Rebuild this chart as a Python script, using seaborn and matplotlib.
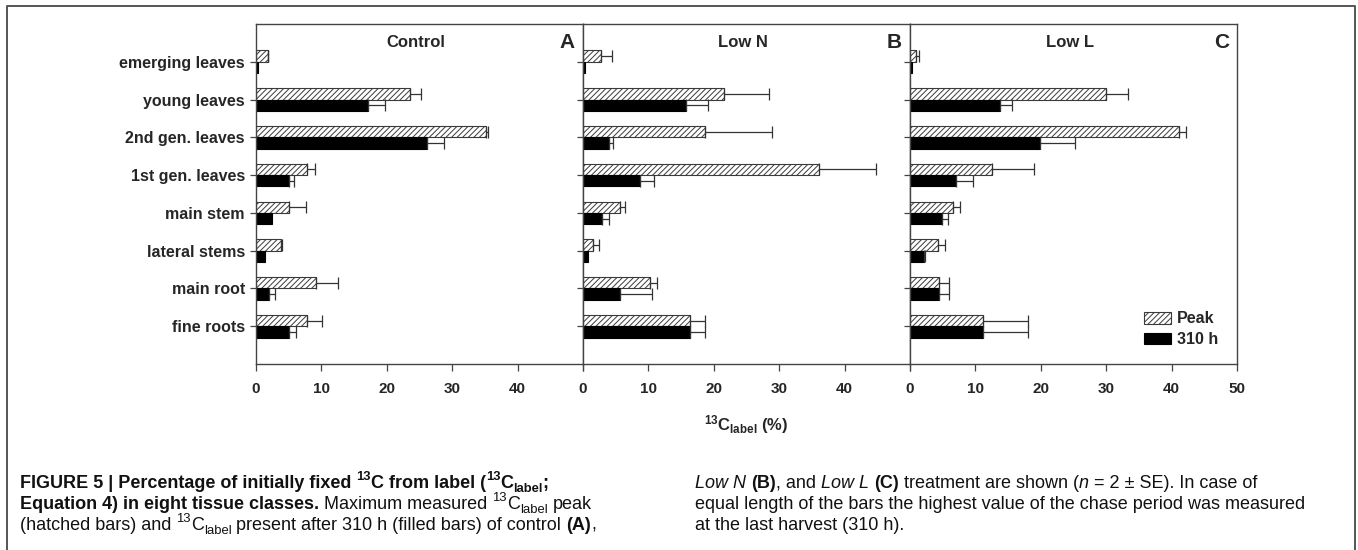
import numpy as np
import pandas as pd
import matplotlib
matplotlib.use('Agg')
import matplotlib.pyplot as plt
import seaborn as sns
from matplotlib.lines import Line2D

tissues = ['emerging leaves', 'young leaves', '2nd gen. leaves', '1st gen. leaves',
           'main stem', 'lateral stems', 'main root', 'fine roots']
treatments = ['Control', 'Low N', 'Low L']
letters = ['A', 'B', 'C']
series = ['Peak', '310 h']

# 13C label (%), mean and SE (one sided bars)
peak_control = [1.8, 23.5, 35.1, 7.8, 5.1, 3.8, 9.2, 7.8]
peak_control_se = [0.1, 1.7, 0.4, 1.2, 2.6, 0.1, 3.4, 2.3]
h310_control = [0.3, 17.2, 26.1, 5.0, 2.5, 1.4, 2.0, 5.1]
h310_control_se = [0.0, 2.5, 2.6, 0.8, 0.0, 0.0, 0.9, 1.0]

peak_lown = [2.7, 21.6, 18.7, 36.1, 5.7, 1.5, 10.3, 16.3]
peak_lown_se = [1.8, 6.9, 10.2, 8.7, 0.7, 1.0, 1.0, 2.4]
h310_lown = [0.3, 15.8, 3.9, 8.7, 2.9, 0.7, 5.7, 16.3]
h310_lown_se = [0.0, 3.3, 0.7, 2.2, 1.0, 0.0, 4.8, 2.4]

peak_lowl = [0.9, 29.9, 41.1, 12.6, 6.6, 4.3, 4.5, 11.2]
peak_lowl_se = [0.4, 3.5, 1.1, 6.4, 1.0, 1.1, 1.5, 6.9]
h310_lowl = [0.3, 13.7, 19.9, 7.1, 4.9, 2.1, 4.5, 11.2]
h310_lowl_se = [0.0, 1.9, 5.4, 2.5, 0.9, 0.2, 1.5, 6.9]

values = {
    ('Control', 'Peak'): (peak_control, peak_control_se),
    ('Control', '310 h'): (h310_control, h310_control_se),
    ('Low N', 'Peak'): (peak_lown, peak_lown_se),
    ('Low N', '310 h'): (h310_lown, h310_lown_se),
    ('Low L', 'Peak'): (peak_lowl, peak_lowl_se),
    ('Low L', '310 h'): (h310_lowl, h310_lowl_se),
}
rows = []
for (t, s), (v, e) in values.items():
    for tis, vv, ee in zip(tissues, v, e):
        rows.append({'treatment': t, 'series': s, 'tissue': tis, 'value': vv, 'se': ee})
df = pd.DataFrame(rows)

sns.set_theme(style='white')
plt.rcParams['font.family'] = ['Liberation Sans', 'DejaVu Sans']
plt.rcParams['mathtext.fontset'] = 'custom'
plt.rcParams['mathtext.rm'] = 'Liberation Sans'
plt.rcParams['mathtext.it'] = 'Liberation Sans:italic'
plt.rcParams['mathtext.bf'] = 'Liberation Sans:bold'
plt.rcParams['hatch.linewidth'] = 0.7

W, H = 1358, 550
fig = plt.figure(figsize=(W / 100, H / 100), dpi=100)

edge = '#3a3a3a'
for i, t in enumerate(treatments):
    ax = fig.add_axes([(256 + 327 * i) / W, 1 - 364 / H, 327 / W, 340 / H])
    sub = df[df['treatment'] == t]
    sns.barplot(data=sub, x='value', y='tissue', hue='series', order=tissues,
                hue_order=series, orient='h', width=0.6,
                palette={'Peak': 'white', '310 h': 'black'},
                errorbar=None, legend=False, ax=ax)
    for k, s in enumerate(series):
        cont = ax.containers[k]
        part = sub[sub['series'] == s].set_index('tissue').loc[tissues]
        se = part['se'].values
        val = part['value'].values
        ys = []
        for p in cont:
            if s == 'Peak':
                p.set_facecolor('white')
                p.set_edgecolor(edge)
                p.set_hatch('//////')
            else:
                p.set_facecolor('black')
                p.set_edgecolor('black')
            p.set_linewidth(0.8)
            ys.append(p.get_y() + p.get_height() / 2)
        ys = np.array(ys)
        m = se > 0
        ax.errorbar(val[m], ys[m], xerr=[np.zeros(m.sum()), se[m]], fmt='none',
                    ecolor='#333333', elinewidth=0.9, capsize=4, capthick=0.9)

    ax.set_xlim(0, 50)
    ax.set_ylim(8, -1)
    ax.set_xticks(range(0, 51, 10))
    labs = [str(v) for v in range(0, 51, 10)]
    if i < 2:
        labs[-1] = ''
    ax.set_xticklabels(labs, fontsize=11, fontweight='bold')
    ax.set_xlabel('')
    ax.set_ylabel('')
    ax.tick_params(axis='x', direction='out', length=5, width=0.9, color='#444444',
                   pad=8, bottom=True)
    ax.tick_params(axis='y', direction='out', length=4, width=0.9, color='#444444',
                   left=True, pad=4)
    ax.set_yticks(range(len(tissues)))
    if i == 0:
        ax.set_yticklabels(tissues, fontsize=11.5, fontweight='bold')
    else:
        ax.set_yticklabels([])
    for sp in ax.spines.values():
        sp.set_visible(True)
        sp.set_color('#444444')
        sp.set_linewidth(1.0)
    ax.text(0.49, 0.947, t, transform=ax.transAxes, ha='center', va='center',
            fontsize=12, fontweight='bold')
    ax.text(0.975, 0.947, letters[i], transform=ax.transAxes, ha='right', va='center',
            fontsize=15, fontweight='bold')
    if i == 2:
        ax.legend([ax.containers[0], ax.containers[1]], series, loc='lower left',
                  bbox_to_anchor=(0.715, 0.05), frameon=False,
                  prop={'weight': 'bold', 'size': 11.5}, handlelength=1.7,
                  handleheight=0.75, labelspacing=0.35, handletextpad=0.4,
                  borderpad=0, borderaxespad=0)

fig.text((256 + 1237) / 2 / W, 1 - 425 / H, r'$\mathbf{{}^{13}C_{label}\ (\%)}$',
         ha='center', va='center', fontsize=12)

# outer frame (open at the bottom)
fx0, fx1, fy0 = 7 / W, 1355 / W, 1 - 6 / H
fig.add_artist(Line2D([fx0, fx0, fx1, fx1], [0, fy0, fy0, 0], transform=fig.transFigure,
                      color='#555555', lw=1.4))

# caption, drawn piece by piece (bold / regular / italic, super- and subscripts)
renderer = fig.canvas.get_renderer()
cap_size = 13


def text_width(s, fs, wt, st):
    t = fig.text(0, 0, s, fontsize=fs, fontweight=wt, fontstyle=st)
    w = t.get_window_extent(renderer).width
    t.remove()
    return w


def draw_line(x, yb, runs):
    for txt, wt, st, kind in runs:
        fs = cap_size * (0.72 if kind else 1.0)
        dy = {'': 0, 'sup': 0.42, 'sub': -0.2}[kind] * cap_size * 100 / 72
        sw = text_width('n n', fs, wt, st) - text_width('nn', fs, wt, st)
        core = txt.strip(' ')
        if not core:
            x += len(txt) * sw
            continue
        x += (len(txt) - len(txt.lstrip(' '))) * sw
        t = fig.text(x / W, 1 - (yb - dy) / H, core, fontsize=fs, fontweight=wt,
                     fontstyle=st, ha='left', va='baseline', color='#111111')
        x += t.get_window_extent(renderer).width
        x += (len(txt) - len(txt.rstrip(' '))) * sw


B, R, N, I = 'bold', 'normal', 'normal', 'italic'
left_lines = [
    [('FIGURE 5 | Percentage of initially fixed ', B, N, ''), ('13', B, N, 'sup'),
     ('C from label (', B, N, ''), ('13', B, N, 'sup'), ('C', B, N, ''),
     ('label', B, N, 'sub'), (';', B, N, '')],
    [('Equation 4) in eight tissue classes.', B, N, ''), (' Maximum measured ', R, N, ''),
     ('13', R, N, 'sup'), ('C', R, N, ''), ('label', R, N, 'sub'), (' peak', R, N, '')],
    [('(hatched bars) and ', R, N, ''), ('13', R, N, 'sup'), ('C', R, N, ''),
     ('label', R, N, 'sub'), (' present after 310 h (filled bars) of control ', R, N, ''),
     ('(A)', B, N, ''), (',', R, N, '')],
]
right_lines = [
    [('Low N', R, I, ''), (' ', R, N, ''), ('(B)', B, N, ''), (', and ', R, N, ''),
     ('Low L', R, I, ''), (' ', R, N, ''), ('(C)', B, N, ''),
     (' treatment are shown (', R, N, ''), ('n', R, I, ''),
     (' = 2 ± SE). In case of', R, N, '')],
    [('equal length of the bars the highest value of the chase period was measured',
      R, N, '')],
    [('at the last harvest (310 h).', R, N, '')],
]
baselines = [488, 509, 530]
for yb, runs in zip(baselines, left_lines):
    draw_line(20, yb, runs)
for yb, runs in zip(baselines, right_lines):
    draw_line(695, yb, runs)

fig.savefig('out.png', dpi=100)
